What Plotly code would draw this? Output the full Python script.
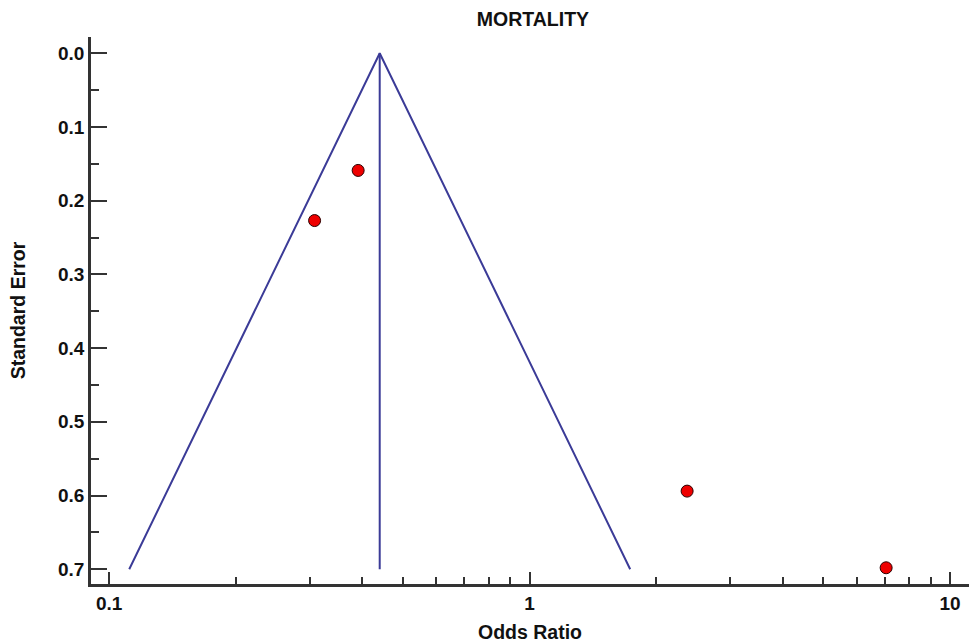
import numpy as np
import plotly.graph_objects as go

# Study estimates
odds_ratio = [0.308, 0.391, 2.37, 7.05]
std_error = [0.227, 0.159, 0.594, 0.698]

# Pooled estimate and funnel extent
pooled_or = 0.44
se_max = 0.70
z = 1.96

# Axis ticks
x_ticks = [0.1, 1, 10]
x_tick_text = ["0.1", "1", "10"]
x_minor = [0.2, 0.3, 0.4, 0.5, 0.6, 0.7, 0.8, 0.9, 2, 3, 4, 5, 6, 7, 8, 9]
y_ticks = [0.0, 0.1, 0.2, 0.3, 0.4, 0.5, 0.6, 0.7]
y_minor = [0.05, 0.15, 0.25, 0.35, 0.45, 0.55, 0.65]

line_col = "#3b3b97"
axis_col = "#333333"
font_family = "Liberation Sans, Arial, sans-serif"

lo = float(np.exp(np.log(pooled_or) - z * se_max))
hi = float(np.exp(np.log(pooled_or) + z * se_max))

fig = go.Figure()

# Funnel: pseudo 95% confidence limits
fig.add_trace(go.Scatter(
    x=[lo, pooled_or, hi], y=[se_max, 0.0, se_max],
    mode="lines", line=dict(color=line_col, width=2),
    hoverinfo="skip", showlegend=False))

# Pooled estimate line
fig.add_trace(go.Scatter(
    x=[pooled_or, pooled_or], y=[0.0, se_max],
    mode="lines", line=dict(color=line_col, width=2),
    hoverinfo="skip", showlegend=False))

# Individual studies
fig.add_trace(go.Scatter(
    x=odds_ratio, y=std_error, mode="markers",
    marker=dict(color="#ee0000", size=12, line=dict(color="#2a0000", width=1)),
    showlegend=False))

tick_font = dict(family=font_family, size=19, color="#111111", weight="bold")
title_font = dict(family=font_family, size=19.5, color="#111111", weight="bold")

fig.update_layout(
    width=969, height=643,
    margin=dict(l=91, r=0, t=37, b=59),
    paper_bgcolor="white", plot_bgcolor="white",
    title=dict(text="MORTALITY", x=0.55, xanchor="center", y=0.97, yanchor="middle",
               font=title_font),
    xaxis=dict(
        type="log", range=[np.log10(0.0905), np.log10(11.1)],
        tickmode="array", tickvals=x_ticks, ticktext=x_tick_text,
        ticks="inside", ticklen=12, tickwidth=2, tickcolor=axis_col,
        minor=dict(tickmode="array", tickvals=x_minor, ticks="inside",
                   ticklen=7, tickwidth=2, tickcolor=axis_col, showgrid=False),
        showline=True, linecolor=axis_col, linewidth=2.5,
        showgrid=False, zeroline=False, tickfont=tick_font,
        title=dict(text="Odds Ratio", standoff=13, font=title_font),
    ),
    yaxis=dict(
        range=[0.72, -0.022],
        tickmode="array", tickvals=y_ticks, tickformat=".1f",
        ticks="inside", ticklen=16, tickwidth=2, tickcolor=axis_col,
        minor=dict(tickmode="array", tickvals=y_minor, ticks="inside",
                   ticklen=8, tickwidth=2, tickcolor=axis_col, showgrid=False),
        showline=True, linecolor=axis_col, linewidth=2.5,
        showgrid=False, zeroline=False, tickfont=tick_font,
        title=dict(text="Standard Error", standoff=28, font=title_font),
    ),
)

fig.write_html("out.html")
